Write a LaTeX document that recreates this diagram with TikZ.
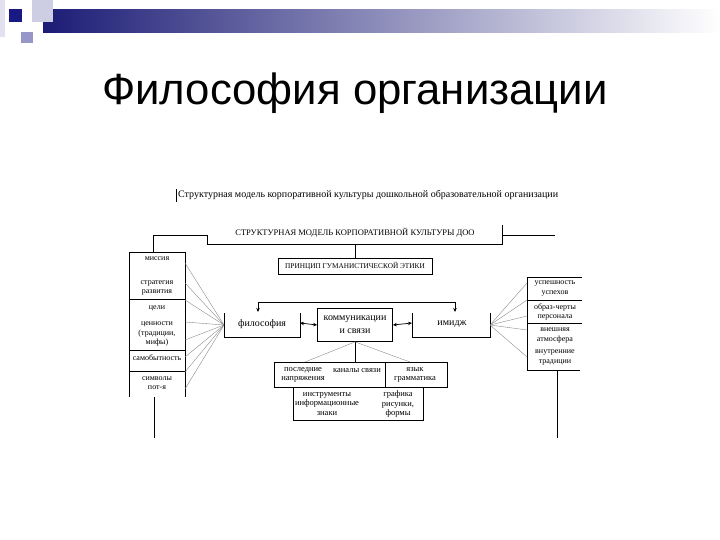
\documentclass[tikz,border=0pt]{standalone}
\usepackage{fontspec}
\setmainfont{Liberation Serif}
\newfontfamily\titlefont{Liberation Sans}
\usetikzlibrary{arrows.meta}
\definecolor{navy}{RGB}{28,28,118}
\definecolor{lav}{RGB}{150,150,200}
\definecolor{lightlav}{RGB}{205,205,228}
\definecolor{midbar}{RGB}{185,185,205}
\begin{document}
\begin{tikzpicture}[x=1pt,y=-1pt,
  ln/.style={line width=0.7pt},
  fan/.style={gray,line width=0.35pt},
  txt/.style={font=\fontsize{8}{9.4}\selectfont,align=center,inner sep=0pt},
  mid/.style={font=\fontsize{10}{11}\selectfont,align=center,inner sep=0pt},
  bot/.style={font=\fontsize{8.5}{9.4}\selectfont,align=center,inner sep=0pt},
  arr/.style={-{Stealth[length=4pt,width=3.5pt]}},
  darr/.style={{Stealth[length=4pt,width=3.5pt]}-{Stealth[length=4pt,width=3.5pt]}},
]
\useasboundingbox (0,0) rectangle (720,540);
% header decoration
\fill[lightlav!60] (0,0) rectangle (5,37);
\shade[left color=navy, middle color=midbar, right color=white] (43,10) rectangle (720,33);
\fill[lightlav] (32,0) rectangle (53,22);
\fill[navy!90!blue] (9,9) rectangle (22,22);
\fill[lav] (21,32) rectangle (33,43);
% title
\node[font=\titlefont\fontsize{43.7}{48}\selectfont,inner sep=0pt] (title) at (355,93) {Философия организации};
% caption
\node[font=\fontsize{10}{11}\selectfont,inner sep=0pt,anchor=west] (cap) at (178,195) {Структурная модель корпоративной культуры дошкольной образовательной организации};
\draw[line width=0.5pt] (176,189) -- (176,202);
% top box
\node[font=\fontsize{8.5}{9}\selectfont,inner sep=0pt] (top) at (355,233) {СТРУКТУРНАЯ МОДЕЛЬ КОРПОРАТИВНОЙ КУЛЬТУРЫ ДОО};
\draw[ln] (153,252) -- (153,235) -- (207,235) -- (207,244) -- (502,244) -- (502,225);
\draw[ln] (502,235) -- (555,235);
% principle
\node[font=\fontsize{7.3}{8}\selectfont,inner sep=0pt,draw,line width=0.7pt,minimum width=154pt,minimum height=16pt] (pr) at (355,266) {ПРИНЦИП ГУМАНИСТИЧЕСКОЙ ЭТИКИ};
\draw[ln] (355,244) -- (pr.north);
% left column
\draw[ln] (129,397) -- (129,252) -- (185,252) -- (185,397);
\draw[ln] (129,299) -- (185,299);
\draw[ln] (129,350) -- (185,350);
\draw[ln] (129,371) -- (185,371);
\node[txt] (l1) at (157,259) {миссия};
\node[txt] (l2) at (157,288) {стратегия\\развития};
\node[txt] (l3) at (157,308) {цели};
\node[txt] (l4) at (157,334) {ценности\\(традиции,\\мифы)};
\node[txt] (l5) at (157,358) {самобытность};
\node[txt] (l6) at (157,383) {символы\\пот-я};
\draw[ln] (154,397) -- (154,438);
% right column
\draw[ln] (582,277) -- (527,277) -- (527,370) -- (580,370);
\draw[ln] (527,300) -- (582,300);
\draw[ln] (527,323) -- (582,323);
\node[txt] (r1) at (555,288.5) {успешность\\успехов};
\node[txt] (r2) at (555,312) {образ-черты\\персонала};
\node[txt] (r3) at (555,335.5) {внешняя\\атмосфера};
\node[txt] (r4) at (555,357.5) {внутренние\\традиции};
\draw[ln] (557,370) -- (557,438);
% middle row
\coordinate (fl) at (224,325);
\coordinate (ir) at (490,325);
\node[mid] (phil) at (262,324) {философия};
\draw[ln] (224,313) -- (224,337) -- (300,337) -- (300,313);
\node[mid,draw,line width=0.7pt,minimum width=75pt,minimum height=33pt] (com) at (355,325) {коммуникации\\[2pt]и связи};
\node[mid] (img) at (452,324) {имидж};
\draw[ln] (412,313) -- (412,337) -- (490,337) -- (490,313);
\draw[ln,arr] (355,302) -| (258,312);
\draw[ln,arr] (355,302) -| (455,312);
\draw[ln,darr] (300,323) -- (com.west);
\draw[ln,darr] (com.east) -- (412,323);
% fans
\foreach \y in {263,283,300,322,340,357,372,389} \draw[fan] (185,\y) -- (fl);
\foreach \y in {283,300,316,330,357} \draw[fan] (527,\y) -- (ir);
% bottom boxes
\draw[ln] (274,362) rectangle (447,387);
\draw[ln] (385,362) -- (385,387);
\draw[ln] (293,387) rectangle (423,420);
\node[bot] (b1) at (303,375) {последние\\напряжения};
\node[bot] (b2) at (357,371) {каналы связи};
\node[bot] (b3) at (415,375) {язык\\грамматика};
\node[bot] (b4) at (327,404) {инструменты\\информационные\\знаки};
\node[bot] (b5) at (398,404) {графика\\рисунки,\\формы};
\draw[ln] (com.south) -- (355,362);
\draw[fan] (com.south) -- (305,362);
\draw[fan] (com.south) -- (410,362);
\end{tikzpicture}
\end{document}
